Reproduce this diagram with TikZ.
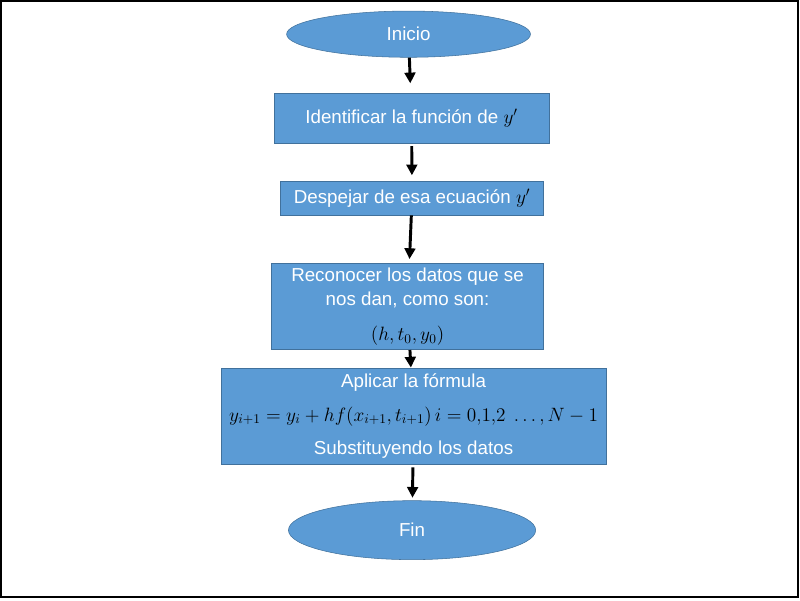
\documentclass[tikz,border=0pt]{standalone}
\usepackage{fontspec}
\setmainfont{Liberation Sans}
\usetikzlibrary{shapes.geometric,arrows.meta}
\definecolor{boxblue}{HTML}{5B9BD5}
\definecolor{edgeblue}{HTML}{41719C}
\begin{document}
\begin{tikzpicture}[x=0.75pt,y=-0.75pt,
    proc/.style={rectangle,draw=edgeblue,fill=boxblue,text=white,align=center,inner sep=2pt,font=\fontsize{14}{18}\selectfont},
    term/.style={ellipse,draw=edgeblue,fill=boxblue,text=white,inner sep=0pt,font=\fontsize{14}{18}\selectfont},
    flecha/.style={line width=2.2pt,-{Triangle[length=8pt,width=8pt]}}]
    \useasboundingbox (0,0) rectangle (796,597);
    \draw[line width=1.5pt] (1,1) rectangle (794,594);
    \node[term,minimum width=182pt,minimum height=34.5pt] (inicio) at (406.5,34) {Inicio};
    \node[proc,minimum width=205pt,minimum height=37.5pt] (ident) at (409.5,117.5) {Identificar la función de \textcolor{black}{$y'$}};
    \node[proc,minimum width=196.5pt,minimum height=25.5pt] (desp) at (410,197) {Despejar de esa ecuación \textcolor{black}{$y'$}};
    \node[proc,minimum width=203pt,minimum height=64.5pt] (recon) at (405.5,305) {Reconocer los datos que se\\nos dan, como son:\\[8pt]\textcolor{black}{$(h,t_0,y_0)$}};
    \node[proc,minimum width=287pt,minimum height=72pt] (aplic) at (411.5,414) {Aplicar la fórmula\\[7pt]\textcolor{black}{\fontsize{13.6}{16}\selectfont$y_{i+1}=y_i+hf(x_{i+1},t_{i+1})\,i=0{,}1{,}2\ \ldots,N-1$}\\[7pt]Substituyendo los datos};
    \node[term,minimum width=184.5pt,minimum height=44pt] (fin) at (410,527.5) {Fin};
    \draw[flecha,shorten >=7pt] (inicio) -- (ident);
    \draw[flecha,shorten <=2pt,shorten >=4pt] (ident) -- (desp);
    \draw[flecha,shorten >=3pt] (desp) -- (recon);
    \draw[flecha] (recon) -- (aplic);
    \draw[flecha,shorten <=2pt,shorten >=2pt] (aplic) -- (fin);
\end{tikzpicture}
\end{document}
